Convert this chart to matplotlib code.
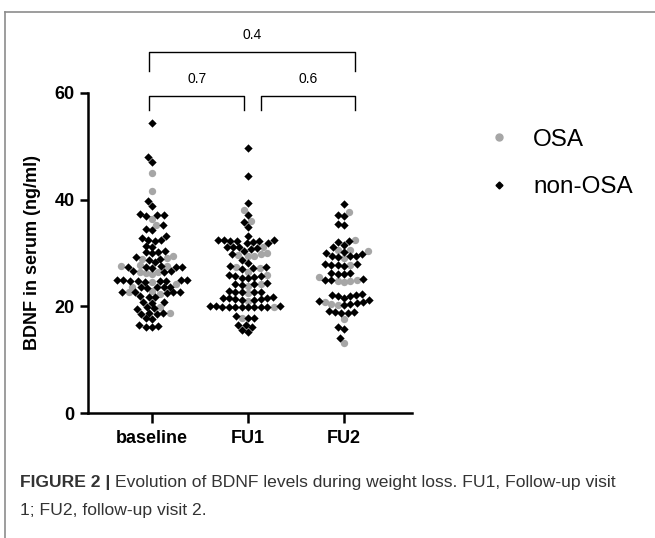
import numpy as np
import matplotlib.pyplot as plt
from matplotlib.lines import Line2D

plt.rcParams['font.family'] = ['Liberation Sans', 'DejaVu Sans']

groups = ['baseline', 'FU1', 'FU2']

base_osa = [45.0, 41.7, 36.4, 35.2, 29.4, 29.0, 28.9, 27.7, 27.6, 27.5, 26.5, 26.4,
            26.2, 26.0, 24.5, 24.2, 23.7, 22.8, 22.6, 22.4, 19.9, 18.7]
base_non = [54.3, 48.0, 47.0, 39.8, 38.8, 37.4, 37.2, 37.1, 36.9, 35.3, 34.5, 34.3,
            33.1, 32.9, 32.5, 32.4, 32.3, 31.4, 31.2, 30.3, 30.2, 30.1, 30.0,
            29.3, 28.9, 28.7, 28.3, 27.5, 27.4, 27.4, 27.3, 27.3, 27.2, 26.7, 26.6, 26.5,
            25.0, 24.9, 24.9, 24.8, 24.8, 24.9, 24.8, 24.7, 24.6,
            23.7, 23.6, 23.6, 23.5, 23.6, 22.7, 22.6, 22.6, 22.5, 22.7,
            21.9, 21.8, 21.7, 20.9, 20.8, 20.7, 19.9, 19.6, 19.5,
            18.8, 18.7, 18.6, 18.5, 17.8, 17.7, 16.5, 16.3, 16.2, 16.1]

fu1_osa = [38.1, 36.0, 31.1, 30.0, 29.8, 29.6, 29.5, 29.4, 27.3, 27.2, 26.5, 25.9,
           24.1, 23.9, 22.5, 21.0, 19.9, 17.8]
fu1_non = [49.7, 44.4, 39.3, 37.1, 35.9, 34.9, 33.2, 32.5, 32.4, 32.4, 32.3, 32.2,
           32.3, 32.1, 31.9, 31.8, 31.1, 31.1, 31.0, 31.2, 30.8, 30.4, 29.9, 28.6, 28.2,
           27.5, 27.4, 27.2, 27.0, 25.8, 25.7, 25.6, 25.5, 25.4, 25.3,
           24.3, 24.2, 24.1, 24.0, 22.8, 22.7, 22.7, 22.6, 22.6,
           21.8, 21.6, 21.5, 21.5, 21.4, 21.4, 21.2, 21.1,
           20.1, 20.0, 19.9, 19.9, 19.9, 19.8, 19.9, 19.8, 19.9, 20.0, 19.9,
           18.2, 17.9, 17.8, 16.5, 16.5, 16.1, 15.6, 15.2]

fu2_osa = [37.7, 32.4, 30.6, 30.5, 30.4, 29.0, 27.7, 25.5, 24.9, 24.8, 24.7, 24.6,
           20.8, 20.5, 20.3, 17.6, 13.1]
fu2_non = [39.2, 37.1, 36.9, 35.5, 35.3, 32.3, 32.1, 31.5, 31.2, 30.2, 30.0, 29.8,
           29.4, 29.4, 29.3, 29.5, 28.0, 27.9, 27.8, 27.7, 27.6,
           26.3, 26.2, 26.1, 26.0, 25.1, 25.0, 24.9,
           22.4, 22.2, 22.1, 22.0, 21.9, 21.5, 21.1, 21.0, 20.9,
           20.6, 20.4, 20.2, 19.2, 19.0, 18.9, 18.8, 18.7,
           16.2, 15.8, 14.0]

osa_vals = [base_osa, fu1_osa, fu2_osa]
non_vals = [base_non, fu1_non, fu2_non]

pvals = ['0.7', '0.6', '0.4']

grey = '#a6a6a6'

fig = plt.figure(figsize=(6.55, 5.38), dpi=100)
ax = fig.add_axes([88 / 655, 1 - 413 / 538, 324 / 655, 320 / 538])
ax.set_xlim(-0.667, 2.708)
ax.set_ylim(0, 60)


def swarm(vals, d, sx, sy):
    # simple beeswarm in pixel space, returns x offsets in data units
    vals = np.asarray(vals)
    order = np.argsort(vals, kind='stable')
    placed = []
    offs = np.zeros(len(vals))
    for i in order:
        y = vals[i] * sy
        cands = [0.0]
        near = [(px, py) for px, py in placed if abs(y - py) < d]
        for px, py in near:
            dx = np.sqrt(d * d - (y - py) ** 2)
            cands += [px - dx, px + dx]
        cands.sort(key=abs)
        for c in cands:
            if all((c - px) ** 2 + (y - py) ** 2 >= d * d - 1e-6 for px, py in near):
                break
        placed.append((c, y))
        offs[i] = c / sx
    return offs


bb = ax.get_window_extent()
sx = bb.width / (2.708 + 0.667)
sy = bb.height / 60.0

for i, g in enumerate(groups):
    allv = non_vals[i] + osa_vals[i]
    kind = [0] * len(non_vals[i]) + [1] * len(osa_vals[i])
    offs = swarm(allv, 6.4, sx, sy)
    allv = np.array(allv)
    kind = np.array(kind)
    m = kind == 1
    ax.scatter(i + offs[m], allv[m], s=28, marker='o', color=grey, linewidths=0, zorder=3)
    ax.scatter(i + offs[~m], allv[~m], s=18, marker='D', color='black', linewidths=0, zorder=3)

ax.spines['top'].set_visible(False)
ax.spines['right'].set_visible(False)
ax.spines['left'].set_linewidth(1.8)
ax.spines['bottom'].set_linewidth(1.8)
ax.set_xticks(range(3))
ax.set_xticklabels(groups, fontsize=13, fontweight='bold')
ax.set_yticks([0, 20, 40, 60])
ax.tick_params(axis='y', length=6, width=1.8, labelsize=13)
ax.tick_params(axis='x', length=7, width=1.8, pad=5)
for lab in ax.get_yticklabels():
    lab.set_fontweight('bold')
ax.set_ylabel('BDNF in serum (ng/ml)', fontsize=13, fontweight='bold', labelpad=10)

# significance brackets
brackets = [(-0.03, 0.96, 59.4, 56.8), (1.135, 2.115, 59.4, 56.8), (-0.03, 2.115, 67.7, 64.1)]
for (x0, x1, top, leg), p in zip(brackets, pvals):
    ax.plot([x0, x0, x1, x1], [leg, top, top, leg], color='black', lw=1.0, clip_on=False)
    ax.text((x0 + x1) / 2, top + 1.9, p, ha='center', va='bottom', fontsize=10)

handles = [Line2D([], [], marker='o', ls='', color=grey, markersize=5),
           Line2D([], [], marker='D', ls='', color='black', markersize=3.5)]
ax.legend(handles, ['OSA', 'non-OSA'], loc='upper left', bbox_to_anchor=(465 / 655, 1 - 107 / 538),
          bbox_transform=fig.transFigure, frameon=False, fontsize=17.5,
          handletextpad=0.9, labelspacing=1.05, handlelength=1.0)

# page frame and caption
fig.add_artist(Line2D([5 / 655, 5 / 655], [0, 1 - 12 / 538], color='#8c8c8c', lw=1.2))
fig.add_artist(Line2D([5 / 655, 1], [1 - 12 / 538, 1 - 12 / 538], color='#8c8c8c', lw=1.2))

t1 = fig.text(20 / 655, 1 - 483 / 538, 'FIGURE 2 | ', fontsize=12.6, fontweight='bold',
              color='#333333', va='center')
r = fig.canvas.get_renderer()
w = t1.get_window_extent(r).width
fig.text(20 / 655 + w / 655, 1 - 483 / 538,
         'Evolution of BDNF levels during weight loss. FU1, Follow-up visit',
         fontsize=12.6, color='#333333', va='center')
fig.text(20 / 655, 1 - 510 / 538, '1; FU2, follow-up visit 2.', fontsize=12.6,
         color='#333333', va='center')

fig.savefig('out.png', dpi=100)
